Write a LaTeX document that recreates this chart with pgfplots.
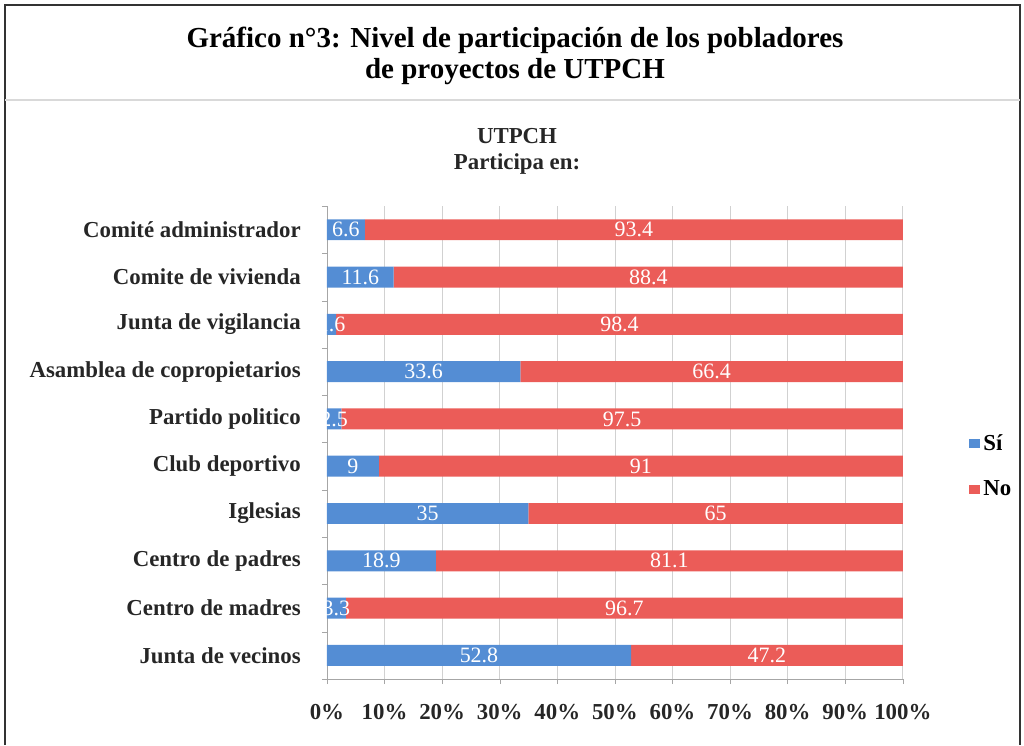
\documentclass[border=0pt]{standalone}
\usepackage{pgfplots}
\pgfplotsset{compat=1.18}
\usepackage{pgfplotstable}
\usepackage{fontspec}
\setmainfont{Liberation Serif}
\definecolor{siblue}{RGB}{84,141,212}
\definecolor{nored}{RGB}{235,92,88}
\pgfplotstableread{
idx si no
0 52.8 47.2
1 3.3 96.7
2 18.9 81.1
3 35 65
4 9 91
5 2.5 97.5
6 33.6 66.4
7 1.6 98.4
8 11.6 88.4
9 6.6 93.4
}\datatable
\pgfplotsset{mygeom/.style={
  at={(6.54cm,1.32cm)}, anchor=south west,
  width=11.52cm, height=9.46cm, scale only axis,
  xmin=0, xmax=100, ymin=-0.5, ymax=9.5}}
\begin{document}
\begin{tikzpicture}[x=0.02cm,y=0.02cm]
\useasboundingbox (0,0) rectangle (1024,745);
% frame
\draw[line width=1.1pt, black!80] (5,0) -- (5,740) -- (1020,740) -- (1020,0);
\draw[line width=0.8pt, black!15] (5,645) -- (1020,645);
% title
\node[align=center, font=\fontsize{16.5}{18}\selectfont\bfseries] at (515,689)
  {Gráfico n°3: Nivel de participación de los pobladores\\de proyectos de UTPCH};
\node[align=center, font=\fontsize{13}{14.8}\selectfont\bfseries, black!85] at (517,594)
  {UTPCH\\Participa en:};
\begin{axis}[
  mygeom,
  xbar stacked, bar width=0.42cm,
  xtick={0,10,...,100},
  xticklabels={0\%,10\%,20\%,30\%,40\%,50\%,60\%,70\%,80\%,90\%,100\%},
  ytick={0,...,9},
  yticklabels={Junta de vecinos,Centro de madres,Centro de padres,Iglesias,Club deportivo,Partido politico,Asamblea de copropietarios,Junta de vigilancia,Comite de vivienda,Comité administrador},
  minor ytick={-0.5,0.5,...,9.5},
  axis x line*=bottom, axis y line*=left,
  axis line style={black!35},
  tick align=outside,
  major tick length=0.1cm, minor tick length=0.1cm,
  major x tick style={black!35},
  major y tick style={draw=none},
  minor y tick style={black!35},
  xmajorgrids, major grid style={black!18},
  ticklabel style={font=\fontsize{13}{15}\selectfont\bfseries, text=black!85},
  xticklabel style={yshift=-0.28cm},
  yticklabel style={xshift=-0.3cm},
  legend style={at={(1.105,0.45)}, anchor=west, draw=none, fill=none,
    font=\fontsize{13}{15}\selectfont\bfseries, row sep=0.42cm},
  legend cell align=left,
  legend image code/.code={\fill[#1] (0cm,-0.09cm) rectangle (0.22cm,0.09cm);},
]
\addplot[fill=siblue, draw=none] table[x=si, y=idx]{\datatable};
\addlegendentry{Sí}
\addplot[fill=nored, draw=none] table[x=no, y=idx]{\datatable};
\addlegendentry{No}
\end{axis}
\begin{axis}[
  mygeom, hide axis,
  point meta=explicit symbolic,
  nodes near coords,
  every node near coord/.append style={font=\fontsize{12.5}{14}\selectfont, text=white, anchor=center},
]
\addplot[draw=none, mark=none] table[x expr=\thisrow{si}/2, y=idx, meta=si]{\datatable};
\addplot[draw=none, mark=none] table[x expr=\thisrow{si}+\thisrow{no}/2, y=idx, meta=no]{\datatable};
\end{axis}
\end{tikzpicture}
\end{document}
